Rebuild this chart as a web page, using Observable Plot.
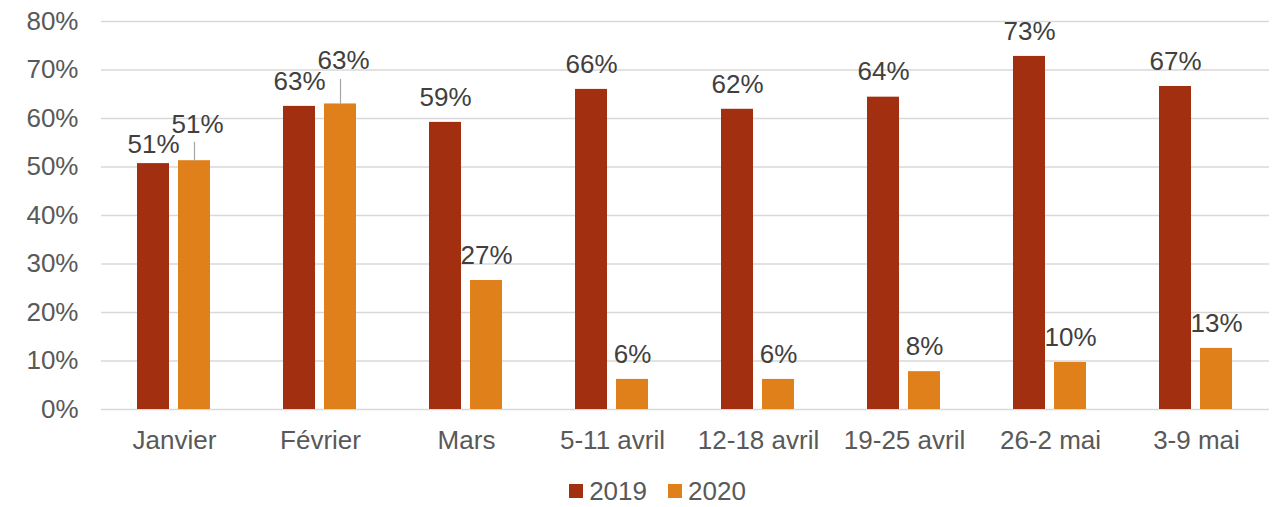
<!DOCTYPE html>
<html>
<head>
<meta charset="utf-8">
<script src="https://cdn.jsdelivr.net/npm/d3@7"></script>
<script src="https://cdn.jsdelivr.net/npm/@observablehq/plot@0.6"></script>
<style>
  html, body { margin: 0; padding: 0; background: #fff; }
  #chart { width: 1276px; }
  .legend { display: flex; justify-content: center; align-items: center; gap: 21px;
    font-family: "Liberation Sans", Arial, sans-serif; font-size: 26px; color: #595959;
    height: 32px; margin-left: 39px; padding-top: 11px; }
  .legend span.item { display: flex; align-items: center; gap: 6px; }
  .legend span.sw { display: inline-block; width: 14px; height: 14px; }
</style>
</head>
<body>
<div id="chart"></div>
<script>
const categories = ["Janvier", "Février", "Mars", "5-11 avril", "12-18 avril", "19-25 avril", "26-2 mai", "3-9 mai"];
const series = ["2019", "2020"];
const values2019 = [50.7, 62.5, 59.2, 66.0, 61.9, 64.4, 72.8, 66.6];
const values2020 = [51.3, 63.0, 26.6, 6.2, 6.2, 7.8, 9.7, 12.6];
const yTicks = [0, 10, 20, 30, 40, 50, 60, 70, 80];
const colors = ["#A32F11", "#E0801B"];

// label placement tweaks (style only): px offsets from bar top
const labelNudge = {
  "Janvier|2019": {dx: 0, dy: -19},
  "Janvier|2020": {dx: 3, dy: -36, leader: 19},
  "Février|2020": {dx: 3, dy: -43, leader: 25}
};
const defaultDy = -25;

const data = [];
categories.forEach((c, i) => {
  data.push({cat: c, series: "2019", value: values2019[i]});
  data.push({cat: c, series: "2020", value: values2020[i]});
});

const width = 1276, height = 464, mt = 21, mb = 55, ml = 100, mr = 6;
const pxPerUnit = (height - mt - mb) / 80;
const fmt = d => Math.round(d) + "%";
const font = "Liberation Sans, Arial, sans-serif";
const fs = 26;

const key = d => d.cat + "|" + d.series;
const textMarks = [
  Plot.text(data.filter(d => !labelNudge[key(d)]), {
    fx: "cat", x: "series", y: "value", text: d => fmt(d.value), dy: defaultDy,
    fill: "#404040", fontSize: fs
  })
];
for (const [k, n] of Object.entries(labelNudge)) {
  const rows = data.filter(d => key(d) === k);
  textMarks.push(Plot.text(rows, {
    fx: "cat", x: "series", y: "value", text: d => fmt(d.value), dx: n.dx, dy: n.dy,
    fill: "#404040", fontSize: fs
  }));
  if (n.leader) {
    textMarks.push(Plot.link(rows, {
      fx: "cat", x1: "series", x2: "series",
      y1: "value", y2: d => d.value + n.leader / pxPerUnit,
      stroke: "#a6a6a6", strokeWidth: 1.2
    }));
  }
}

const chart = Plot.plot({
  width, height,
  marginTop: mt, marginBottom: mb, marginLeft: ml, marginRight: mr,
  style: {fontFamily: font, fontSize: fs + "px", color: "#595959", background: "#fff", overflow: "visible"},
  fx: {domain: categories, padding: 0, label: null},
  x: {domain: series, paddingInner: 0.2143, paddingOuter: 0.848, axis: null},
  y: {domain: [0, 80], label: null},
  color: {domain: series, range: colors},
  marks: [
    Plot.gridY(yTicks, {stroke: "#d9d9d9", strokeOpacity: 1, strokeWidth: 1.5}),
    Plot.axisY(yTicks, {tickSize: 0, tickPadding: 23, tickFormat: d => d + "%", fontSize: fs, fill: "#595959", label: null}),
    Plot.axisFx({anchor: "bottom", tickSize: 0, tickPadding: 21, fontSize: fs, fill: "#595959", label: null}),
    Plot.barY(data, {fx: "cat", x: "series", y: "value", fill: "series"}),
    ...textMarks
  ]
});
document.getElementById("chart").appendChild(chart);

const legend = document.createElement("div");
legend.className = "legend";
series.forEach((s, i) => {
  const item = document.createElement("span");
  item.className = "item";
  const sw = document.createElement("span");
  sw.className = "sw";
  sw.style.background = colors[i];
  const t = document.createElement("span");
  t.textContent = s;
  item.appendChild(sw);
  item.appendChild(t);
  legend.appendChild(item);
});
document.getElementById("chart").appendChild(legend);
</script>
</body>
</html>
